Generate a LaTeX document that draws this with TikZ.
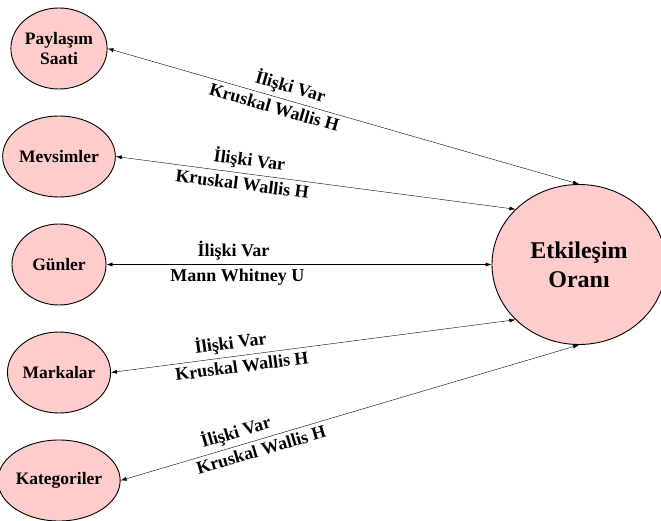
\documentclass[tikz,border=0pt]{standalone}
\usepackage{fontspec}
\setmainfont{Liberation Serif}
\usetikzlibrary{positioning,shapes.geometric,arrows.meta}
\definecolor{nodepink}{RGB}{255,204,204}
\begin{document}
\begin{tikzpicture}[main/.style = {draw, ellipse, fill=nodepink, line width=0.9pt, minimum width=94pt, minimum height=81pt, inner sep=0pt, align=center, font=\fontsize{17.5}{20}\selectfont\bfseries},
        big/.style = {main, minimum width=174pt, minimum height=160pt, font=\fontsize{24}{29}\selectfont\bfseries},
        lbl/.style = {sloped, inner sep=4pt, font=\fontsize{18}{20}\selectfont\bfseries},
        node distance=108pt, >={Latex[length=6pt,width=4pt]}]
        \useasboundingbox (0pt,0pt) rectangle (661pt,-521pt);
        \node[main] (pay) at (59pt,-48.5pt) {Paylaşım\\Saati};
        \node[main] (mev) [below of=pay] {Mevsimler};
        \node[main] (gun) [below of=mev] {Günler};
        \node[main] (mar) [below of=gun] {Markalar};
        \node[main] (kat) [below of=mar] {Kategoriler};
        \node[big] (etk) [node distance=520pt, right of=gun] {Etkileşim\\Oranı};
        %
        \draw[<->] (pay.east) -- node[lbl, above, pos=0.38] {İlişki Var} node[lbl, below, pos=0.36] {Kruskal Wallis H} (etk.north);
        \draw[<->] (mev.east) -- node[lbl, above, pos=0.33] {İlişki Var} node[lbl, below, pos=0.32] {Kruskal Wallis H} (etk.139);
        \draw[<->] (gun.east) -- node[lbl, above, pos=0.33] {İlişki Var} node[lbl, below, pos=0.34] {Mann Whitney U} (etk.west);
        \draw[<->] (mar.east) -- node[lbl, above, pos=0.30] {İlişki Var} node[lbl, below, pos=0.32] {Kruskal Wallis H} (etk.221);
        \draw[<->] (kat.east) -- node[lbl, above, pos=0.26] {İlişki Var} node[lbl, below, pos=0.30] {Kruskal Wallis H} (etk.south);
      \end{tikzpicture}
\end{document}
